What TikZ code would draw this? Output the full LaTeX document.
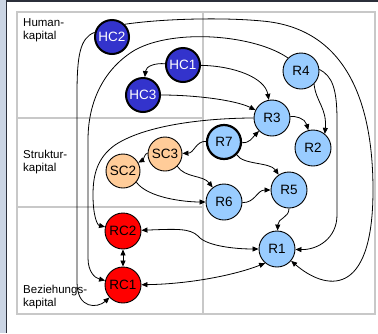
\documentclass[tikz,border=0pt]{standalone}
\usepackage{fontspec}
\setmainfont{Liberation Sans}
\usetikzlibrary{arrows.meta}
\definecolor{hcblue}{HTML}{3333CC}
\definecolor{rblue}{HTML}{99CCFF}
\definecolor{scpeach}{HTML}{FFCC99}
\definecolor{rcred}{HTML}{FF0000}
\definecolor{gridgray}{HTML}{C8C8C8}
\definecolor{framebg}{HTML}{CBD5E4}
\definecolor{framedark}{HTML}{2B2F3A}
\begin{document}
\begin{tikzpicture}[x=1pt,y=-1pt,
  capnode/.style={circle, minimum size=36pt, inner sep=0pt, draw=black, line width=0.9pt,
              font=\fontsize{13.5}{14}\selectfont},
  hc/.style={capnode, fill=hcblue, text=white, line width=2pt, minimum size=34pt},
  rn/.style={capnode, fill=rblue},
  rnbold/.style={capnode, fill=rblue, line width=2.2pt, minimum size=34pt},
  sc/.style={capnode, fill=scpeach, minimum size=34pt},
  rc/.style={capnode, fill=rcred},
  conn/.style={line width=0.8pt, -{Triangle[length=6pt,width=5pt]}},
  both/.style={line width=0.8pt, {Triangle[length=6pt,width=5pt]}-{Triangle[length=6pt,width=5pt]}},
  rowlabel/.style={anchor=north west, inner sep=0pt, align=left,
                   font=\fontsize{11.5}{13}\selectfont},
  gridline/.style={gridgray, line width=1.2pt},
]
\useasboundingbox (0,0) rectangle (378,333);
% page frame
\fill[white] (0,0) rectangle (378,333);
\fill[framebg] (0,0) rectangle (6,333);
\draw[framedark, line width=1.5pt] (6.5,333) -- (6.5,1) -- (378,1);

% table grid
\draw[gridline] (17,12) rectangle (375,314);
\draw[gridline] (203,12) -- (203,314);
\draw[gridline] (17,118) -- (203,118) (17,207) -- (203,207);

% row labels
\node[rowlabel] (lh) at (23,18.5) {Human-\\kapital};
\node[rowlabel] (ls) at (23,149.5) {Struktur-\\kapital};
\node[rowlabel] (lb) at (23,284.5) {Beziehungs-\\kapital};

% capital nodes
\node[hc] (HC2) at (112,37) {HC2};
\node[hc] (HC1) at (183,65) {HC1};
\node[hc] (HC3) at (143,95) {HC3};
\node[rn] (R4) at (301,71) {R4};
\node[rn] (R3) at (272,118) {R3};
\node[rn] (R2) at (313,148) {R2};
\node[rnbold] (R7) at (224,142) {R7};
\node[sc] (SC3) at (165,154) {SC3};
\node[sc] (SC2) at (123,171) {SC2};
\node[rn] (R6) at (224,202) {R6};
\node[rn] (R5) at (289,190) {R5};
\node[rn] (R1) at (277,249) {R1};
\node[rc] (RC2) at (123,231) {RC2};
\node[rc] (RC1) at (123,285) {RC1};

% long arcs
\draw[conn] (HC2.45) .. controls (160,19) and (220,17) .. (262,21)
  .. controls (345,28) and (373,100) .. (373,190)
  .. controls (373,300) and (325,290) .. (R1.-40);
\draw[conn] (HC2.165) .. controls (80,38) and (77,55) .. (77,95) -- (77,282)
  .. controls (77,310) and (98,308) .. (RC1);
\draw[conn] (R4.135) .. controls (255,35) and (175,28) .. (135,50)
  .. controls (105,68) and (88,100) .. (88,140) -- (88,258)
  .. controls (88,272) and (95,278) .. (RC1);
\draw[conn] (R3.180) .. controls (220,118) and (150,122) .. (115,145)
  .. controls (97,158) and (93,175) .. (93,195)
  .. controls (93,215) and (97,225) .. (RC2);
\draw[conn] (R4.5) .. controls (332,76) and (337,88) .. (337,120) -- (337,215)
  .. controls (337,238) and (318,250) .. (R1);

% short links
\draw[conn] (HC1) .. controls (155,63) and (146,66) .. (HC3);
\draw[conn] (HC1) .. controls (235,66) and (265,78) .. (R3);
\draw[conn] (HC3) .. controls (195,95) and (235,100) .. (R3);
\draw[conn] (R4.-45) .. controls (316,102) and (327,108) .. (R2.50);
\draw[conn] (R3) .. controls (295,116) and (305,118) .. (R2);
\draw[conn] (R7) .. controls (250,143) and (252,138) .. (R3);
\draw[conn] (R7) .. controls (196,141) and (194,153) .. (SC3);
\draw[conn] (R7.-45) .. controls (243,165) and (270,162) .. (R5);
\draw[conn] (SC3) .. controls (145,153) and (143,160) .. (SC2);
\draw[conn] (SC3.-45) .. controls (185,178) and (203,175) .. (R6);
\draw[conn] (SC2.-40) .. controls (148,198) and (185,202) .. (R6);
\draw[conn] (R6) .. controls (255,203) and (257,190) .. (R5);
\draw[conn] (R5) .. controls (289,218) and (278,218) .. (R1);

% relational links
\draw[both] (RC2) .. controls (175,229) and (190,228) .. (198,236)
  .. controls (206,246) and (235,249) .. (R1);
\draw[both] (RC1) .. controls (190,284) and (235,275) .. (R1.-130);
\draw[both] (RC2) -- (RC1);
\end{tikzpicture}
\end{document}
